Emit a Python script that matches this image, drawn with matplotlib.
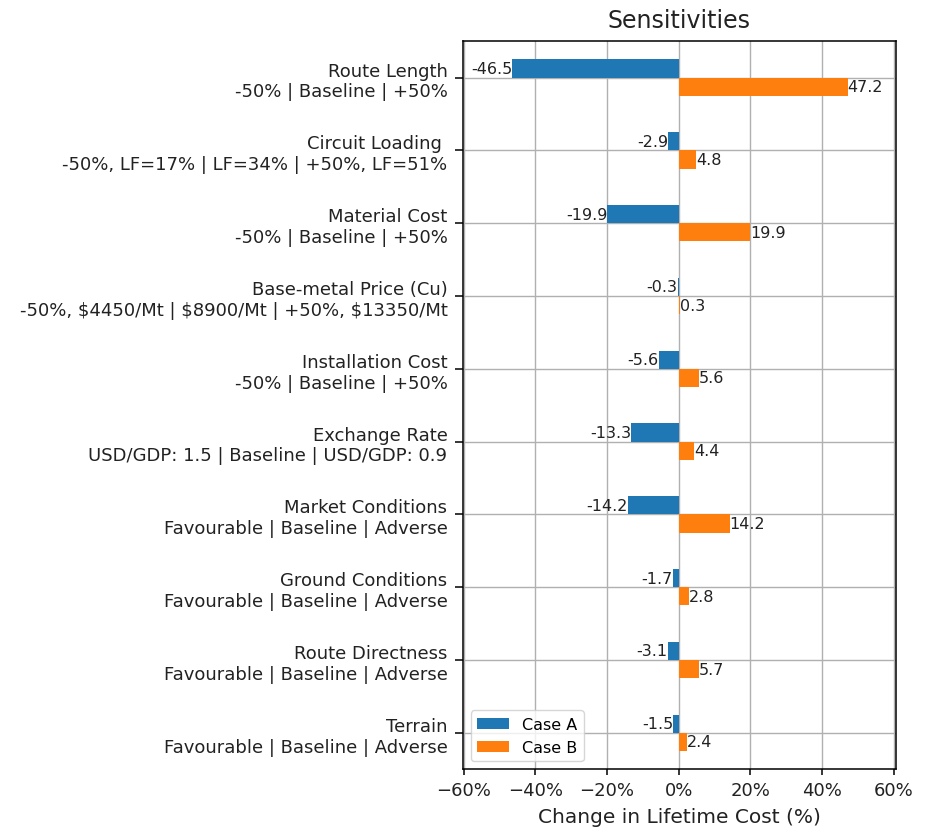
import matplotlib.pyplot as plt
import numpy as np
from matplotlib.ticker import PercentFormatter

labels = [
    "Route Length\n-50% | Baseline | +50%",
    "Circuit Loading \n-50%, LF=17% | LF=34% | +50%, LF=51%",
    "Material Cost\n-50% | Baseline | +50%",
    "Base-metal Price (Cu)\n-50%, $4450/Mt | $8900/Mt | +50%, $13350/Mt",
    "Installation Cost\n-50% | Baseline | +50%",
    "Exchange Rate\nUSD/GDP: 1.5 | Baseline | USD/GDP: 0.9",
    "Market Conditions\nFavourable | Baseline | Adverse",
    "Ground Conditions\nFavourable | Baseline | Adverse",
    "Route Directness\nFavourable | Baseline | Adverse",
    "Terrain\nFavourable | Baseline | Adverse",
]
case_a = [-46.5, -2.9, -19.9, -0.3, -5.6, -13.3, -14.2, -1.7, -3.1, -1.5]
case_b = [47.2, 4.8, 19.9, 0.3, 5.6, 4.4, 14.2, 2.8, 5.7, 2.4]

y = np.arange(len(labels))
h = 0.25

fig = plt.figure(figsize=(9.33, 8.29), dpi=100)
ax = fig.add_axes([0.496, 0.071, 0.464, 0.878])
ax.set_axisbelow(True)
ax.grid(True, color="#b0b0b0", linewidth=1.0)
ba = ax.barh(y - h / 2, case_a, height=h, color="#1f77b4", label="Case A")
bb = ax.barh(y + h / 2, case_b, height=h, color="#ff7f0e", label="Case B")
ax.bar_label(ba, fmt="%.1f", fontsize=11.5, color="#222222")
ax.bar_label(bb, fmt="%.1f", fontsize=11.5, color="#222222")

ax.set_yticks(y)
ax.set_yticklabels(labels, fontsize=13, color="#222222")
ax.set_ylim(len(labels) - 0.5, -0.5)
ax.set_xlim(-60.3, 60.6)
ax.set_xticks(np.arange(-60, 61, 20))
ax.xaxis.set_major_formatter(PercentFormatter(decimals=0))
ax.tick_params(axis="x", labelsize=13, length=4.5, width=1.1, pad=4, labelcolor="#222222")
ax.tick_params(axis="y", length=6, width=1.1, pad=5)
for s in ax.spines.values():
    s.set_linewidth(1.1)
ax.set_xlabel("Change in Lifetime Cost (%)", fontsize=14.5, labelpad=6, color="#222222")
ax.set_title("Sensitivities", fontsize=17, pad=10, color="#222222")
ax.legend(loc="lower left", fontsize=11.5)

fig.savefig("out.png", dpi=100)
